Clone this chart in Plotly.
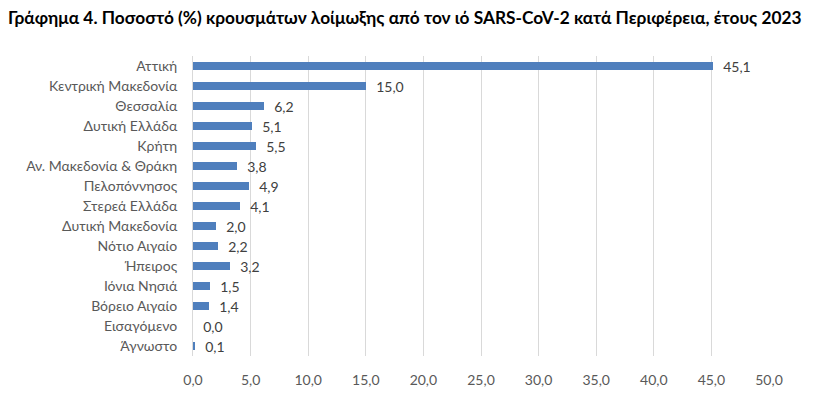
import plotly.graph_objects as go

regions = ["Αττική", "Κεντρική Μακεδονία", "Θεσσαλία", "Δυτική Ελλάδα", "Κρήτη",
           "Αν. Μακεδονία & Θράκη", "Πελοπόννησος", "Στερεά Ελλάδα", "Δυτική Μακεδονία",
           "Νότιο Αιγαίο", "Ήπειρος", "Ιόνια Νησιά", "Βόρειο Αιγαίο", "Εισαγόμενο", "Άγνωστο"]
percent = [45.1, 15.0, 6.2, 5.1, 5.5, 3.8, 4.9, 4.1, 2.0, 2.2, 3.2, 1.5, 1.4, 0.0, 0.1]
x_ticks = [0, 5, 10, 15, 20, 25, 30, 35, 40, 45, 50]

FONT = "Lato, Open Sans, sans-serif"

fig = go.Figure(go.Bar(
    x=percent, y=regions, orientation="h",
    marker=dict(color="#4f7fbd", line=dict(width=0)),
    width=0.36,
    text=percent, texttemplate="\u00a0\u00a0%{x:.1f}", textposition="outside",
    constraintext="none",
    textfont=dict(family=FONT, size=14, color="#404040"),
    cliponaxis=False,
))

# page body has an 8px default margin; the figure is sized so the whole page is 816x399
fig.update_layout(
    template="none",
    width=808, height=391,
    separators=",.",
    paper_bgcolor="white", plot_bgcolor="white",
    margin=dict(l=185, r=47, t=48, b=43, pad=0),
    title=dict(text="<b>Γράφημα 4. Ποσοστό (%) κρουσμάτων λοίμωξης από τον ιό SARS-CoV-2 κατά Περιφέρεια, έτους 2023</b>",
               x=0, xanchor="left", y=0.975, yanchor="middle",
               font=dict(family=FONT, size=17.3, color="black")),
    showlegend=False,
    bargap=0,
)
fig.update_xaxes(range=[0, 50], tickvals=x_ticks, tickformat=".1f", automargin=False,
                 showgrid=True, gridcolor="#d9d9d9", gridwidth=1,
                 zeroline=False, showline=False, ticks="",
                 tickfont=dict(family=FONT, size=14, color="#595959"),
                 ticklabelstandoff=14)
fig.update_yaxes(autorange="reversed", showgrid=False, showline=True, linecolor="#d9d9d9",
                 ticks="", ticklabelstandoff=12, automargin=False,
                 tickfont=dict(family=FONT, size=14, color="#595959"))

fig.write_html("out.html")
